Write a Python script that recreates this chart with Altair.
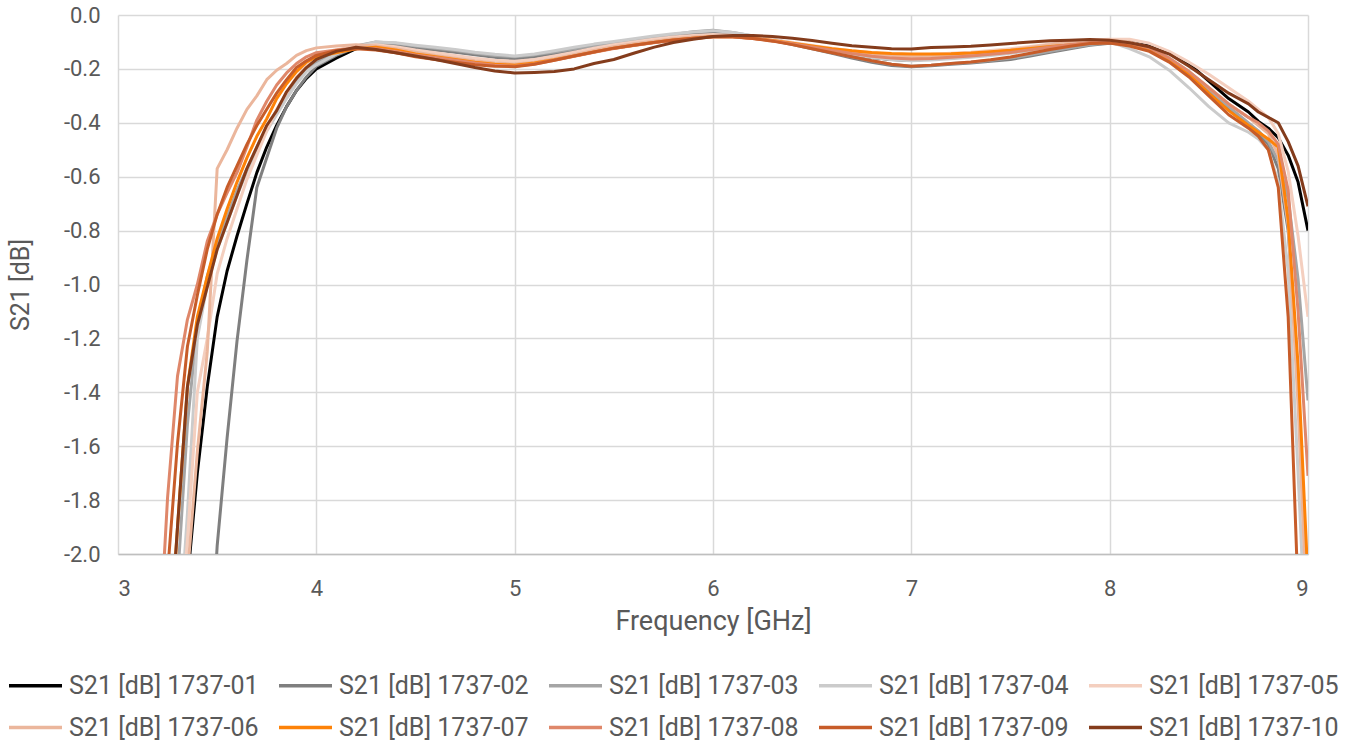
import altair as alt
import pandas as pd

freq = [3.20, 3.25, 3.30, 3.35, 3.40, 3.45, 3.50, 3.55, 3.60, 3.65, 3.70, 3.75, 3.80, 3.85, 3.90, 3.95, 4.00,
        4.1, 4.2, 4.3, 4.4, 4.5, 4.6, 4.7, 4.8, 4.9, 5.0, 5.1, 5.2, 5.3, 5.4, 5.5, 5.6, 5.7, 5.8, 5.9, 6.0,
        6.1, 6.2, 6.3, 6.4, 6.5, 6.6, 6.7, 6.8, 6.9, 7.0, 7.1, 7.2, 7.3, 7.4, 7.5, 7.6, 7.7, 7.8, 7.9, 8.0,
        8.1, 8.2, 8.3, 8.4, 8.5, 8.6, 8.7, 8.75, 8.8, 8.85, 8.9, 8.95, 9.0]

s01 = [-3.3, -2.9, -2.5, -2.1, -1.7, -1.38, -1.12, -0.95, -0.82, -0.70, -0.585, -0.49, -0.41, -0.34, -0.28, -0.235, -0.20,
       -0.16, -0.125, -0.105, -0.11, -0.12, -0.128, -0.135, -0.145, -0.152, -0.16, -0.152, -0.14, -0.128, -0.118, -0.105,
       -0.097, -0.085, -0.077, -0.07, -0.063, -0.07, -0.08, -0.092, -0.105, -0.118, -0.133, -0.148, -0.158, -0.165, -0.168,
       -0.163, -0.158, -0.152, -0.146, -0.138, -0.128, -0.118, -0.108, -0.1, -0.098,
       -0.1, -0.115, -0.14, -0.18, -0.245, -0.31, -0.36, -0.395, -0.42, -0.455, -0.52, -0.62, -0.80]
s02 = [None, None, None, None, -3.3, -2.6, -1.97, -1.57, -1.21, -0.91, -0.64, -0.53, -0.42, -0.34, -0.28, -0.23, -0.19,
       -0.15, -0.12, -0.108, -0.112, -0.122, -0.13, -0.138, -0.148, -0.157, -0.163, -0.155, -0.143, -0.13, -0.118, -0.107,
       -0.097, -0.087, -0.078, -0.07, -0.065, -0.07, -0.082, -0.095, -0.11, -0.125, -0.142, -0.16, -0.175, -0.187, -0.192,
       -0.188, -0.183, -0.178, -0.172, -0.165, -0.152, -0.138, -0.125, -0.112, -0.105,
       -0.11, -0.13, -0.17, -0.22, -0.29, -0.35, -0.41, -0.44, -0.48, -0.57, -0.80, -1.35, -2.3]
s03 = [-3.1, -2.6, -2.1, -1.52, -1.15, -0.97, -0.85, -0.75, -0.65, -0.57, -0.49, -0.42, -0.36, -0.30, -0.245, -0.20, -0.175,
       -0.14, -0.115, -0.1, -0.105, -0.115, -0.123, -0.132, -0.142, -0.15, -0.155, -0.148, -0.137, -0.125, -0.113, -0.102,
       -0.092, -0.082, -0.072, -0.062, -0.057, -0.065, -0.078, -0.092, -0.107, -0.122, -0.138, -0.155, -0.17, -0.183, -0.19,
       -0.186, -0.18, -0.175, -0.168, -0.16, -0.148, -0.135, -0.122, -0.11, -0.103,
       -0.11, -0.125, -0.16, -0.21, -0.28, -0.34, -0.40, -0.43, -0.47, -0.54, -0.68, -0.98, -1.43]
s04 = [-3.4, -2.9, -2.4, -1.85, -1.2, -1.0, -0.87, -0.77, -0.67, -0.58, -0.50, -0.43, -0.37, -0.31, -0.255, -0.21, -0.185,
       -0.145, -0.118, -0.1, -0.103, -0.112, -0.12, -0.128, -0.138, -0.146, -0.152, -0.145, -0.133, -0.12, -0.108, -0.098,
       -0.088, -0.078, -0.07, -0.063, -0.058, -0.065, -0.077, -0.09, -0.104, -0.118, -0.132, -0.146, -0.158, -0.166, -0.17,
       -0.167, -0.162, -0.157, -0.15, -0.142, -0.132, -0.12, -0.11, -0.102, -0.1,
       -0.125, -0.155, -0.205, -0.27, -0.34, -0.40, -0.435, -0.46, -0.50, -0.62, -0.95, -1.7, -2.5]
s05 = [-3.4, -2.9, -2.4, -1.95, -1.4, -1.2, -0.96, -0.83, -0.72, -0.61, -0.52, -0.43, -0.35, -0.29, -0.23, -0.19, -0.16,
       -0.13, -0.115, -0.11, -0.118, -0.13, -0.14, -0.15, -0.16, -0.168, -0.172, -0.165, -0.152, -0.138, -0.123, -0.11,
       -0.1, -0.09, -0.082, -0.076, -0.072, -0.075, -0.082, -0.092, -0.102, -0.113, -0.123, -0.133, -0.14, -0.146, -0.148,
       -0.146, -0.142, -0.138, -0.132, -0.125, -0.117, -0.108, -0.1, -0.093, -0.09,
       -0.09, -0.105, -0.135, -0.175, -0.22, -0.27, -0.32, -0.35, -0.38, -0.44, -0.58, -0.82, -1.12]
s06 = [-3.5, -3.0, -2.55, -2.08, -1.62, -1.25, -0.57, -0.50, -0.42, -0.35, -0.30, -0.24, -0.205, -0.18, -0.15, -0.132, -0.122,
       -0.115, -0.11, -0.115, -0.125, -0.138, -0.15, -0.16, -0.17, -0.178, -0.182, -0.175, -0.162, -0.147, -0.132, -0.118,
       -0.107, -0.097, -0.088, -0.082, -0.078, -0.08, -0.086, -0.095, -0.105, -0.116, -0.127, -0.138, -0.146, -0.152, -0.155,
       -0.153, -0.15, -0.145, -0.138, -0.13, -0.12, -0.11, -0.102, -0.096, -0.094,
       -0.1, -0.12, -0.16, -0.21, -0.27, -0.33, -0.38, -0.41, -0.44, -0.52, -0.78, -1.45, -2.3]
s07 = [-3.0, -2.45, -1.9, -1.38, -1.12, -0.97, -0.83, -0.72, -0.62, -0.53, -0.45, -0.385, -0.31, -0.255, -0.21, -0.175, -0.155,
       -0.14, -0.125, -0.12, -0.13, -0.145, -0.155, -0.165, -0.175, -0.183, -0.186, -0.178, -0.166, -0.152, -0.137, -0.123,
       -0.112, -0.102, -0.093, -0.086, -0.081, -0.081, -0.086, -0.095, -0.105, -0.115, -0.125, -0.133, -0.139, -0.143, -0.145,
       -0.145, -0.144, -0.141, -0.136, -0.131, -0.124, -0.117, -0.111, -0.105, -0.101,
       -0.108, -0.128, -0.165, -0.22, -0.29, -0.355, -0.41, -0.435, -0.46, -0.49, -0.76, -1.3, -2.1]
s08 = [-2.45, -1.79, -1.34, -1.13, -1.0, -0.84, -0.74, -0.66, -0.585, -0.49, -0.39, -0.32, -0.26, -0.215, -0.18, -0.155, -0.14,
       -0.13, -0.122, -0.125, -0.135, -0.148, -0.158, -0.168, -0.178, -0.186, -0.19, -0.182, -0.168, -0.153, -0.138, -0.124,
       -0.113, -0.103, -0.094, -0.087, -0.082, -0.082, -0.087, -0.096, -0.107, -0.119, -0.131, -0.143, -0.153, -0.16, -0.163,
       -0.161, -0.157, -0.152, -0.146, -0.139, -0.129, -0.119, -0.11, -0.103, -0.1,
       -0.105, -0.122, -0.16, -0.21, -0.27, -0.33, -0.38, -0.40, -0.43, -0.48, -0.65, -1.1, -1.71]
s09 = [-2.6, -2.07, -1.59, -1.23, -1.04, -0.87, -0.74, -0.64, -0.56, -0.48, -0.41, -0.35, -0.29, -0.24, -0.195, -0.17, -0.15,
       -0.132, -0.125, -0.13, -0.14, -0.155, -0.165, -0.175, -0.185, -0.19, -0.192, -0.183, -0.168, -0.152, -0.137, -0.123,
       -0.112, -0.102, -0.093, -0.086, -0.081, -0.081, -0.087, -0.097, -0.11, -0.125, -0.14, -0.155, -0.17, -0.183, -0.19,
       -0.186, -0.18, -0.174, -0.166, -0.156, -0.142, -0.128, -0.116, -0.106, -0.104,
       -0.115, -0.135, -0.175, -0.23, -0.30, -0.37, -0.42, -0.45, -0.50, -0.64, -1.12, -2.15, -3.0]
s10 = [-3.0, -2.45, -1.9, -1.38, -1.15, -1.01, -0.87, -0.77, -0.67, -0.57, -0.49, -0.41, -0.355, -0.285, -0.235, -0.195, -0.165,
       -0.135, -0.12, -0.128, -0.14, -0.152, -0.165, -0.18, -0.195, -0.208, -0.215, -0.213, -0.21, -0.2, -0.18, -0.165,
       -0.142, -0.12, -0.102, -0.09, -0.08, -0.076, -0.076, -0.08, -0.086, -0.095, -0.105, -0.114, -0.12, -0.125, -0.126,
       -0.121, -0.119, -0.116, -0.111, -0.106, -0.1, -0.096, -0.094, -0.091, -0.094,
       -0.103, -0.118, -0.145, -0.19, -0.24, -0.29, -0.33, -0.36, -0.38, -0.40, -0.47, -0.56, -0.71]

series_names = ["S21 [dB] 1737-01", "S21 [dB] 1737-02", "S21 [dB] 1737-03", "S21 [dB] 1737-04",
                "S21 [dB] 1737-05", "S21 [dB] 1737-06", "S21 [dB] 1737-07", "S21 [dB] 1737-08",
                "S21 [dB] 1737-09", "S21 [dB] 1737-10"]
series_colors = ["#000000", "#7f7f7f", "#a5a5a5", "#cbcbcb", "#f4cfbf",
                 "#ebb69c", "#fd8208", "#df876a", "#c75c29", "#843c1c"]
all_values = [s01, s02, s03, s04, s05, s06, s07, s08, s09, s10]

x_ticks = [3, 4, 5, 6, 7, 8, 9]
y_ticks = [-2.0, -1.8, -1.6, -1.4, -1.2, -1.0, -0.8, -0.6, -0.4, -0.2, 0.0]

rows = []
for name, vals in zip(series_names, all_values):
    for f, v in zip(freq, vals):
        if v is not None:
            rows.append({"Frequency": f, "S21": v, "Series": name})
df = pd.DataFrame(rows)

FONT = "Roboto"
TXT = "#595959"
GRID = "#d9d9d9"

chart = alt.Chart(df).mark_line(strokeWidth=3, clip=True, strokeJoin="round").encode(
    x=alt.X("Frequency:Q",
            scale=alt.Scale(domain=[3, 9], nice=False, zero=False),
            axis=alt.Axis(values=x_ticks, format="d", title="Frequency [GHz]",
                          grid=True, gridColor=GRID, gridWidth=1.5,
                          ticks=False, domain=True, domainColor="#bfbfbf", domainWidth=1.5,
                          labelFont=FONT, labelFontSize=22, labelColor=TXT, labelPadding=24,
                          titleFont=FONT, titleFontSize=27, titleColor=TXT, titleFontWeight="normal",
                          titlePadding=9)),
    y=alt.Y("S21:Q",
            scale=alt.Scale(domain=[-2, 0], nice=False, zero=False),
            axis=alt.Axis(values=y_ticks, labelExpr="replace(format(datum.value, '.1f'), '\u2212', '-')",
                          title="S21 [dB]", grid=True, gridColor=GRID, gridWidth=1.5,
                          ticks=False, domain=False,
                          labelFont=FONT, labelFontSize=22, labelColor=TXT, labelPadding=18,
                          titleFont=FONT, titleFontSize=25, titleColor=TXT, titleFontWeight="normal",
                          titlePadding=30)),
    color=alt.Color("Series:N",
                    scale=alt.Scale(domain=series_names, range=series_colors),
                    legend=alt.Legend(title=None, orient="none", legendX=-111, legendY=642,
                                      direction="horizontal", columns=5,
                                      symbolType="stroke", symbolSize=2809, symbolStrokeWidth=3.5,
                                      labelFont=FONT, labelFontSize=25, labelColor=TXT,
                                      labelOffset=5, columnPadding=13, rowPadding=-7,
                                      padding=0, labelLimit=400)),
).properties(
    width=1190, height=539,
    autosize=alt.AutoSizeParams(type="none"),
    padding={"left": 118, "top": 15, "right": 51, "bottom": 188},
).configure_view(stroke=None)

chart.save("out.html", embed_options={"renderer": "svg", "actions": False})
